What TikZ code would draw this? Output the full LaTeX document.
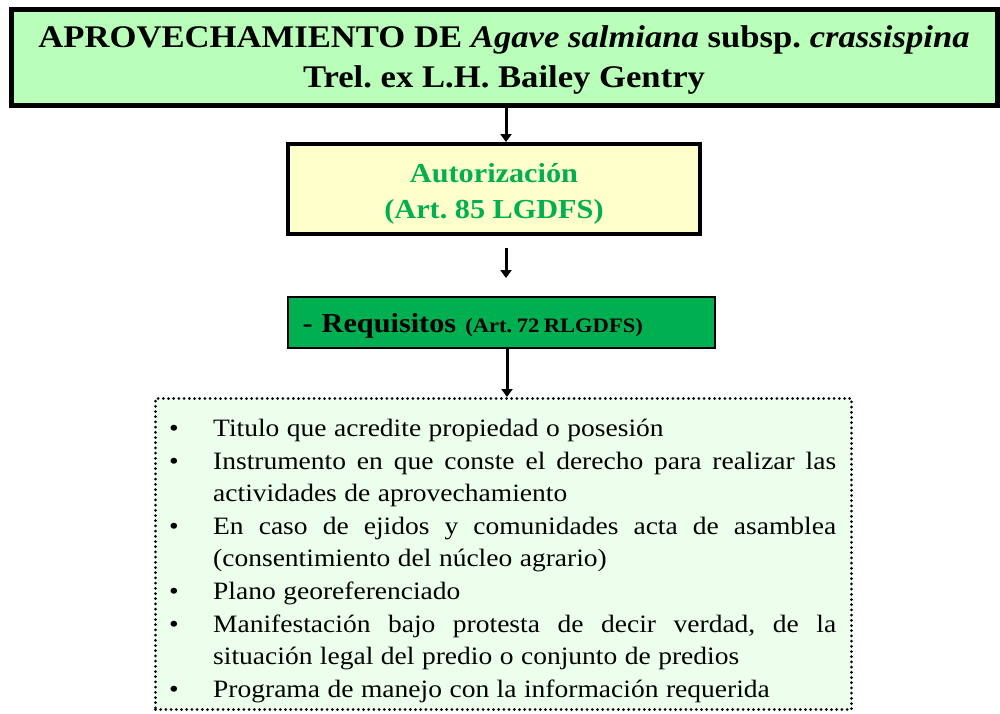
\documentclass[tikz,border=0pt]{standalone}
\usepackage{fontspec}
\setmainfont{Liberation Serif}[FakeStretch=1.1]
\usetikzlibrary{arrows.meta}
\frenchspacing
\definecolor{titlegreen}{RGB}{185,255,185}
\definecolor{autoyellow}{RGB}{255,255,204}
\definecolor{reqgreen}{RGB}{0,176,80}
\definecolor{txtgreen}{RGB}{0,176,80}
\definecolor{listgreen}{RGB}{236,255,236}
\tikzset{
  titlebox/.style={draw=black, line width=5pt, fill=titlegreen, minimum width=986pt, minimum height=96pt, inner sep=0pt, align=center, font=\fontsize{31.5}{40}\selectfont\bfseries},
  autobox/.style={draw=black, line width=4pt, fill=autoyellow, minimum width=412pt, minimum height=90pt, inner sep=0pt, align=center, text=txtgreen, font=\fontsize{27.5}{36}\selectfont\bfseries},
  reqbox/.style={draw=black, line width=2pt, fill=reqgreen, minimum height=51pt, text width=398pt, inner xsep=14.5pt, inner ysep=0pt, align=left, font=\fontsize{27.5}{32}\selectfont\bfseries},
  listbox/.style={draw=black, line width=3pt, dash pattern=on 0pt off 5.2pt, line cap=round, fill=listgreen, minimum width=696pt, minimum height=311pt, inner sep=0pt},
  listtext/.style={inner sep=0pt, text width=681pt, align=justify, font=\fontsize{25}{32.6}\selectfont},
  flowarrow/.style={line width=3pt, -{Triangle[length=8pt,width=11pt]}},
}
\newcommand{\bitem}[1]{\noindent\hangindent=58pt\hangafter=1\makebox[58pt][l]{\hspace{14pt}•}#1\par}
\begin{document}
\begin{tikzpicture}[x=1pt,y=1pt]
\useasboundingbox (0,0) rectangle (1000,-713);
\node[titlebox] (title) at (504,-57) {\rule{0pt}{28pt}APROVECHAMIENTO DE \textit{Agave salmiana} subsp. \textit{crassispina}\\ Trel. ex L.H. Bailey Gentry};
\node[autobox] (auto) at (494,-189) {\rule{0pt}{29pt}Autorización\\ (Art. 85 LGDFS)};
\node[reqbox, anchor=west] (req) at (287,-322) {\rule{0pt}{26pt}- Requisitos {\fontsize{20.5}{24}\selectfont\spaceskip=0.22em (Art. 72 RLGDFS)}};
\node[listbox] (list) at (503.5,-554) {};
\node[listtext, anchor=north west] (items) at (155,-419) {\hyphenpenalty=10000 \exhyphenpenalty=10000 \spaceskip=0.3em plus 0.6em minus 0.05em
\bitem{Titulo que acredite propiedad o posesión}
\bitem{Instrumento en que conste el derecho para realizar las\linebreak actividades de aprovechamiento}
\bitem{En caso de ejidos y comunidades acta de asamblea\linebreak (consentimiento del núcleo agrario)}
\bitem{Plano georeferenciado}
\bitem{Manifestación bajo protesta de decir verdad, de la\linebreak situación legal del predio o conjunto de predios}
\bitem{Programa de manejo con la información requerida}
};
\coordinate (a1) at (506,-108);
\draw[flowarrow] (title.south -| a1) -- (auto.north -| a1);
\coordinate (a2) at (506,-248);
\draw[flowarrow] (a2) -- (506,-278);
\coordinate (a3) at (507,-352);
\draw[flowarrow] (req.south -| a3) -- (list.north -| a3);
\end{tikzpicture}
\end{document}
